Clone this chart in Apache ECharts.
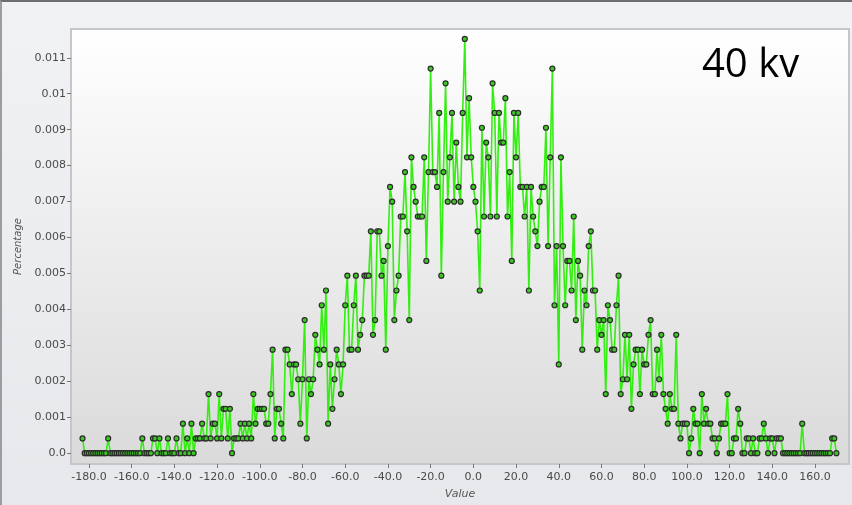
<!DOCTYPE html>
<html>
<head>
<meta charset="utf-8">
<script src="https://cdn.jsdelivr.net/npm/echarts@6/dist/echarts.min.js"></script>
<style>
  html, body { margin: 0; padding: 0; }
  #chart {
    width: 852px; height: 505px; box-sizing: border-box;
    border-top: 2px solid #6b6e72; border-left: 2px solid #9a9da2;
    background: linear-gradient(#f1f2f4, #e6e8eb);
  }
</style>
</head>
<body>
<div id="chart"></div>
<script>
// histogram bins: one per integer value, starting at -183
let binStart = -183
let sampleSize = 2430
let counts = [
  1, 0, 0, 0, 0, 0, 0, 0, 0, 0,
  0, 0, 1, 0, 0, 0, 0, 0, 0, 0,
  0, 0, 0, 0, 0, 0, 0, 0, 1, 0,
  0, 0, 0, 1, 1, 0, 1, 0, 0, 0,
  1, 0, 0, 0, 1, 0, 0, 2, 0, 1,
  0, 2, 0, 1, 1, 1, 2, 1, 1, 4,
  1, 2, 2, 1, 4, 1, 3, 3, 1, 3,
  0, 1, 1, 1, 2, 1, 2, 1, 2, 1,
  4, 2, 3, 3, 3, 3, 2, 2, 4, 7,
  1, 3, 3, 2, 1, 7, 7, 6, 4, 6,
  6, 5, 2, 5, 9, 1, 5, 4, 5, 8,
  7, 6, 10, 7, 11, 2, 6, 3, 5, 7,
  6, 4, 6, 10, 12, 7, 7, 10, 12, 7,
  8, 9, 12, 12, 12, 15, 8, 9, 15, 15,
  12, 13, 7, 14, 18, 17, 9, 11, 12, 16,
  16, 19, 15, 9, 20, 18, 17, 16, 16, 16,
  20, 13, 19, 26, 19, 19, 18, 23, 12, 19,
  25, 17, 20, 23, 17, 21, 18, 17, 23, 28,
  20, 24, 20, 18, 17, 15, 11, 22, 16, 21,
  20, 16, 25, 23, 16, 23, 21, 21, 24, 16,
  19, 13, 23, 20, 23, 18, 18, 16, 18, 11,
  18, 16, 15, 14, 17, 18, 18, 22, 14, 20,
  26, 10, 14, 6, 20, 14, 10, 13, 13, 11,
  16, 9, 13, 12, 7, 11, 10, 14, 15, 11,
  11, 7, 9, 8, 9, 4, 10, 9, 7, 7,
  10, 12, 4, 5, 8, 5, 8, 3, 6, 7,
  7, 4, 7, 6, 6, 8, 9, 4, 4, 7,
  5, 8, 4, 3, 2, 4, 3, 3, 8, 2,
  1, 2, 2, 2, 0, 1, 3, 2, 2, 0,
  4, 2, 3, 2, 2, 1, 1, 0, 1, 2,
  2, 2, 4, 0, 0, 1, 1, 3, 2, 0,
  0, 1, 1, 0, 1, 0, 0, 1, 1, 2,
  1, 0, 1, 1, 0, 1, 1, 1, 0, 0,
  0, 0, 0, 0, 0, 0, 0, 2, 0, 0,
  0, 0, 0, 0, 0, 0, 0, 0, 0, 0,
  0, 1, 1, 0
]
let xTicks = [-180, -160, -140, -120, -100, -80, -60, -40, -20, 0, 20, 40, 60, 80, 100, 120, 140, 160]
let yTicks = [0, 0.001, 0.002, 0.003, 0.004, 0.005, 0.006, 0.007, 0.008, 0.009, 0.01, 0.011]

let points = counts.map((c, i) => [binStart + i, c / sampleSize])

let chart = echarts.init(document.getElementById('chart'))
let labelFont = { color: '#4a4a4a', fontSize: 11, fontFamily: 'DejaVu Sans' }

chart.setOption({
  animation: false,
  grid: {
    left: 69, right: 3, top: 27, bottom: 41,
    outerBoundsMode: 'none',
    show: true,
    borderColor: '#c4c6c9',
    borderWidth: 2,
    backgroundColor: {
      type: 'linear', x: 0, y: 0, x2: 0, y2: 1,
      colorStops: [{ offset: 0, color: '#ffffff' }, { offset: 1, color: '#dadada' }]
    }
  },
  xAxis: {
    type: 'value',
    min: -188.4,
    max: 175.9,
    name: 'Value',
    nameLocation: 'middle',
    nameGap: 25,
    nameTextStyle: { fontStyle: 'italic', color: '#555', fontSize: 11, fontFamily: 'DejaVu Sans' },
    axisLine: { show: false, onZero: false },
    splitLine: { show: false },
    axisTick: { show: true, customValues: xTicks, length: 4, lineStyle: { color: '#777' } },
    axisLabel: Object.assign({ customValues: xTicks, margin: 8, formatter: v => v.toFixed(1) }, labelFont)
  },
  yAxis: {
    type: 'value',
    min: -0.0003,
    max: 0.0118,
    name: 'Percentage',
    nameLocation: 'middle',
    nameGap: 46,
    nameTextStyle: { fontStyle: 'italic', color: '#555', fontSize: 10, fontFamily: 'DejaVu Sans' },
    axisLine: { show: false, onZero: false },
    splitLine: { show: false },
    axisTick: { show: true, customValues: yTicks, length: 4, lineStyle: { color: '#777' } },
    axisLabel: Object.assign({
      customValues: yTicks, margin: 5,
      formatter: v => v === 0 ? '0.0' : String(+v.toFixed(3))
    }, labelFont)
  },
  graphic: [{
    type: 'text',
    left: 700, top: 44,
    style: { text: '40 kv', fontSize: 40, fill: '#000', fontFamily: 'Open Sans' }
  }],
  series: [{
    type: 'line',
    data: points,
    symbol: 'circle',
    symbolSize: 5,
    showAllSymbol: true,
    lineStyle: { color: '#33ee11', width: 1.6 },
    itemStyle: { color: '#3cc822', borderColor: '#2b2b2b', borderWidth: 1.2 }
  }]
})
</script>
</body>
</html>
